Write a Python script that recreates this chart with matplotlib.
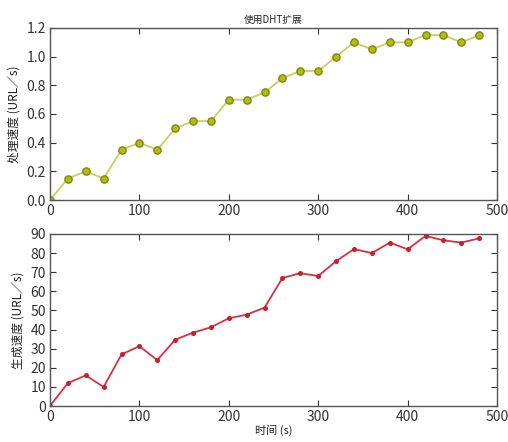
import matplotlib
matplotlib.use("Agg")
import matplotlib.pyplot as plt

plt.rcParams['font.family'] = ['Noto Sans CJK SC', 'DejaVu Sans']

time_s = [0, 20, 40, 60, 80, 100, 120, 140, 160, 180, 200, 220, 240,
          260, 280, 300, 320, 340, 360, 380, 400, 420, 440, 460, 480]
process_speed = [0, 0.15, 0.2, 0.15, 0.35, 0.4, 0.35, 0.5, 0.55, 0.55, 0.7, 0.7, 0.75,
                 0.85, 0.9, 0.9, 1.0, 1.1, 1.05, 1.1, 1.1, 1.15, 1.15, 1.1, 1.15]
gen_speed = [0, 12, 16, 10, 27, 31.3, 24, 34.7, 38.4, 41.2, 45.9, 47.8, 51.5,
             67, 69.5, 68, 75.8, 82.1, 80, 85.5, 82, 89, 86.7, 85.5, 87.7]

title = "使用DHT扩展"
ylabel_top = "处理速度 (URL／s)"
ylabel_bottom = "生成速度 (URL／s)"
xlabel = "时间 (s)"

fig = plt.figure(figsize=(5.08, 4.42), dpi=100)
ax1 = fig.add_axes([0.0984, 0.5475, 0.8800, 0.3892])
ax2 = fig.add_axes([0.0984, 0.0814, 0.8800, 0.3892])

ax1.plot(time_s, process_speed, color='#c8cf5a', lw=1.3, marker='o', ms=5.2,
         markerfacecolor='#b5bc10', markeredgecolor='#7a8a10', markeredgewidth=1.0)
ax2.plot(time_s, gen_speed, color='#d9303e', lw=1.3, marker='o', ms=2.6,
         markerfacecolor='#c81e2e', markeredgecolor='#c81e2e')

ax1.set_xlim(0, 500)
ax1.set_ylim(0, 1.2)
ax1.set_yticks([0, 0.2, 0.4, 0.6, 0.8, 1.0, 1.2])
ax2.set_xlim(0, 500)
ax2.set_ylim(0, 90)
ax2.set_yticks(range(0, 91, 10))

for ax in (ax1, ax2):
    ax.set_xticks([0, 100, 200, 300, 400, 500])
    ax.tick_params(direction='in', top=True, right=True, labelsize=10,
                   length=4, width=0.8, colors='#333333', pad=3)
    for s in ax.spines.values():
        s.set_color('#555555')
        s.set_linewidth(1.0)
ax1.yaxis.set_major_formatter(matplotlib.ticker.FormatStrFormatter('%.1f'))

ax1.set_title(title, fontsize=7, color='#222222', pad=4)
ax1.set_ylabel(ylabel_top, fontsize=8.5, color='#222222', labelpad=4)
ax2.set_ylabel(ylabel_bottom, fontsize=8.5, color='#222222', labelpad=4)
ax2.set_xlabel(xlabel, fontsize=8, color='#222222', labelpad=0)

fig.savefig("out.png", dpi=100, facecolor='white')
